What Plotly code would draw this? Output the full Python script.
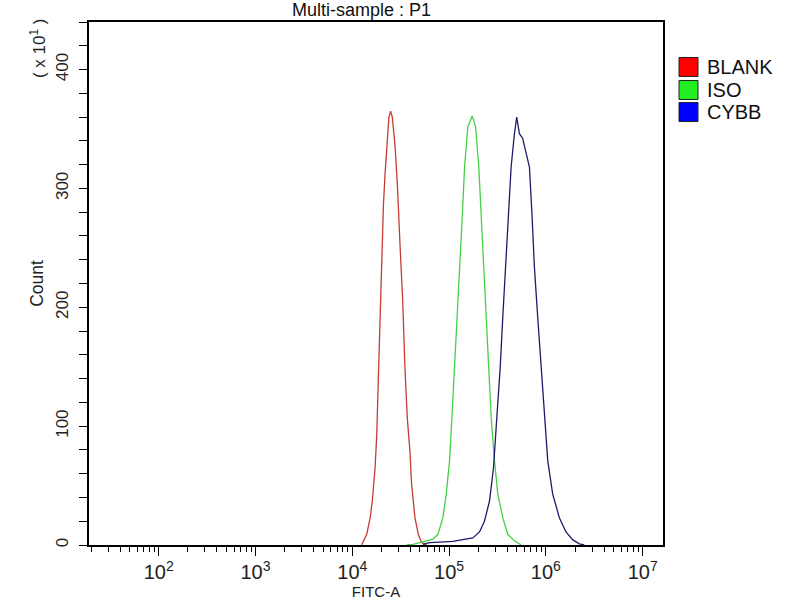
import plotly.graph_objects as go

# FITC-A bin positions and counts (x10^1)
blank_x = [12500, 14100, 15300, 16100, 17200, 17900, 18600, 19400, 20100, 21000, 21800, 22700,
           23900, 24900, 25900, 27600, 29200, 31100, 33200, 35000, 37000, 39400, 41000, 44400,
           48100, 52000, 58600]
blank_y = [0, 9, 23, 37, 65, 93, 141, 191, 242, 287, 312, 337,
           360, 365, 360, 337, 304, 253, 205, 149, 107, 79, 51, 23,
           9, 2, 0]

iso_x = [36200, 42400, 49600, 58200, 68100, 76700, 86300, 93500, 101200, 106900, 114000, 120300,
         128300, 136800, 144500, 156300, 173500, 187600, 202800, 214700, 226800, 241900, 257300,
         272300, 294400, 318500, 358700, 403800, 473300, 554700]
iso_y = [0, 0.5, 2, 3.5, 5, 9, 23, 43, 71, 107, 149, 192,
         234, 276, 318, 352, 361, 352, 318, 276, 234, 192, 149,
         107, 71, 43, 23, 9, 3.5, 0]

cybb_x = [53700, 62900, 79800, 109400, 138600, 175800, 206100, 232000, 261700, 287700, 311200,
          337300, 358900, 382300, 403500, 437600, 473300, 500000, 533200, 576400, 615100, 676300,
          721100, 760800, 822800, 892400, 966100, 1045000, 1175000, 1377000, 1614000, 1889000,
          2213000, 2493000]
cybb_y = [0.5, 2, 2.5, 3, 4.5, 6, 11, 20, 37, 65, 107,
          149, 192, 234, 276, 318, 346, 360, 346, 342, 332, 318,
          276, 234, 192, 149, 107, 71, 43, 23, 11, 4.5,
          1, 0]

series_names = ["BLANK", "ISO", "CYBB"]
line_colors = ["#c43c32", "#45d045", "#1c1c6b"]
swatch_colors = ["#ff0000", "#22ee22", "#0000ff"]

FONT = "Liberation Sans, Arial, sans-serif"

fig = go.Figure()
for xs, ys, col in [(blank_x, blank_y, line_colors[0]),
                    (iso_x, iso_y, line_colors[1]),
                    (cybb_x, cybb_y, line_colors[2])]:
    fig.add_trace(go.Scatter(x=xs, y=ys, mode="lines", line=dict(color=col, width=1.3),
                             showlegend=False, hoverinfo="skip"))

fig.update_layout(
    width=800, height=600,
    margin=dict(l=89, r=137, t=22, b=55, autoexpand=False),
    paper_bgcolor="white", plot_bgcolor="white",
    font=dict(family=FONT, size=14, color="#111111"),
    showlegend=False,
)

fig.update_xaxes(
    type="log", range=[1.28, 7.21], dtick=1, exponentformat="power",
    showgrid=False, zeroline=False, automargin=False,
    showline=True, linecolor="black", linewidth=1.5, mirror=True,
    ticks="outside", ticklen=9, tickcolor="black", tickwidth=1.2,
    minor=dict(ticks="outside", ticklen=5, dtick="D1", tickcolor="black", showgrid=False),
    tickfont=dict(size=16, family=FONT, color="#222222"),
    ticklabelstandoff=0,
    title=dict(text="FITC-A", font=dict(size=15, family=FONT, color="#222222"), standoff=0),
)

fig.update_yaxes(
    range=[0, 440], dtick=100, tick0=0,
    showgrid=False, zeroline=False, automargin=False,
    showline=True, linecolor="black", linewidth=1.5, mirror=True,
    ticks="outside", ticklen=8, tickcolor="black", tickwidth=1.2,
    minor=dict(ticks="outside", ticklen=8, dtick=20, tickcolor="black", showgrid=False),
    tickangle=-90, tickfont=dict(size=17, family=FONT, color="#222222"),
    ticklabelstandoff=4,
    title=dict(text="Count", font=dict(size=17.5, family=FONT, color="#222222"), standoff=5),
)

# title and y-axis multiplier
fig.add_annotation(text="Multi-sample : P1", xref="paper", yref="paper",
                   x=0.4739, y=1.0235, xanchor="center", yanchor="middle", showarrow=False,
                   font=dict(size=18, family=FONT, color="#111111"))
fig.add_annotation(text="( x 10<sup>1</sup> )", xref="paper", yref="paper",
                   x=-0.089, y=0.95, xanchor="center", yanchor="middle", showarrow=False,
                   textangle=-90, font=dict(size=17, family=FONT, color="#222222"))

# legend block (swatches + labels) to the right of the plot
leg_y = [0.914, 0.870, 0.8279]
sw_h = 0.0363
for name, col, yc in zip(series_names, swatch_colors, leg_y):
    fig.add_shape(type="rect", xref="paper", yref="paper",
                  x0=1.0279, x1=1.0610, y0=yc - sw_h / 2, y1=yc + sw_h / 2,
                  fillcolor=col, line=dict(color="#222222", width=1))
    fig.add_annotation(text=name, xref="paper", yref="paper", x=1.073, y=yc,
                       xanchor="left", yanchor="middle", showarrow=False,
                       font=dict(size=20, family=FONT, color="#111111"))

# drop the page's default 8px body margin so the figure sits at the window's corner
fig.write_html("out.html", config={"displayModeBar": False},
               post_script="document.body.style.margin='0';")
